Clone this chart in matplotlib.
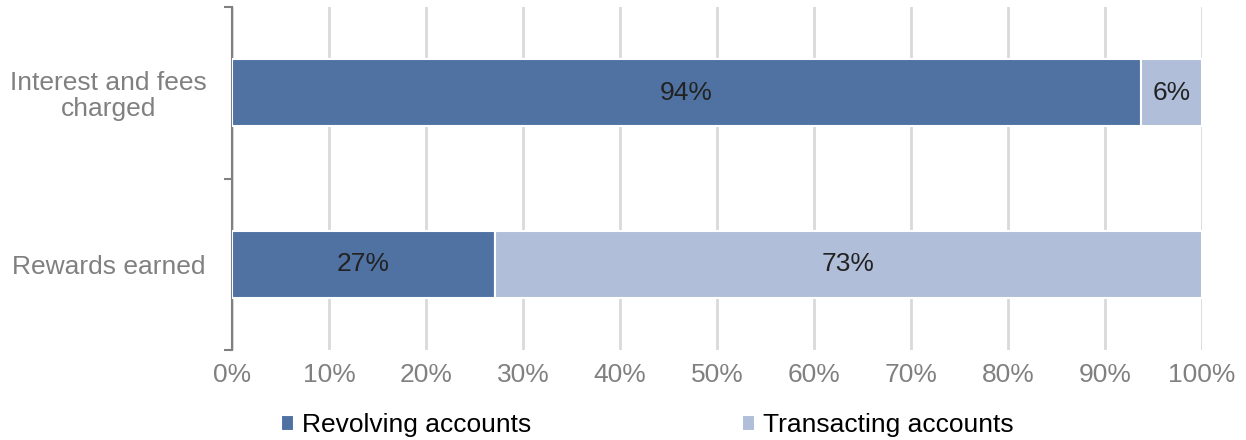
import matplotlib.pyplot as plt
from matplotlib.ticker import FixedLocator, PercentFormatter

plt.rcParams['font.family'] = ['Liberation Sans', 'DejaVu Sans']

categories = ["Rewards earned", "Interest and fees\ncharged"]
revolving = [27.1, 93.7]
transacting = [72.9, 6.3]
revolving_labels = ["27%", "94%"]
transacting_labels = ["73%", "6%"]

dark = "#4F72A2"
light = "#B0BED9"
grey = "#808080"

fig = plt.figure(figsize=(12.46, 4.4), dpi=100)
ax = fig.add_axes([232 / 1246, 90 / 440, 970 / 1246, 343 / 440])

y = list(range(len(categories)))
b1 = ax.barh(y, revolving, height=0.39, color=dark, edgecolor="white", linewidth=1.5,
             label="Revolving accounts", zorder=3)
b2 = ax.barh(y, transacting, left=revolving, height=0.39, color=light, edgecolor="white",
             linewidth=1.5, label="Transacting accounts", zorder=3)
ax.bar_label(b1, labels=revolving_labels, label_type="center", fontsize=19, color="#222222")
ax.bar_label(b2, labels=transacting_labels, label_type="center", fontsize=19, color="#222222")

ax.set_xlim(0, 100)
ax.set_ylim(-0.5, 1.5)
ax.set_xticks(range(0, 101, 10))
ax.xaxis.set_major_formatter(PercentFormatter(decimals=0))
ax.grid(axis="x", color="#D9D9D9", linewidth=2, zorder=0)
ax.set_yticks(y)
ax.set_yticklabels(categories, fontsize=19, color=grey, linespacing=1.1)
ax.yaxis.set_minor_locator(FixedLocator([-0.5, 0.5, 1.5]))
ax.tick_params(axis="y", which="major", length=0)
ax.tick_params(axis="y", which="minor", length=6, width=1.5, color=grey)
ax.tick_params(axis="x", length=0, labelsize=19, labelcolor=grey, pad=9)
for s in ["top", "right", "bottom"]:
    ax.spines[s].set_visible(False)
ax.spines["left"].set_color(grey)
ax.spines["left"].set_linewidth(1.5)
for lbl in ax.get_yticklabels():
    lbl.set_horizontalalignment("center")
    lbl.set_x(-0.122)

handles = [b1, b2]
fig.legend(handles=handles, labels=["Revolving accounts", "Transacting accounts"],
           loc="lower left", bbox_to_anchor=(270 / 1246, -0.018), ncol=2, frameon=False,
           fontsize=19, handlelength=0.5, handleheight=0.5, handletextpad=0.3,
           columnspacing=8.0, borderaxespad=0.0)

fig.savefig("out.png", dpi=100)
